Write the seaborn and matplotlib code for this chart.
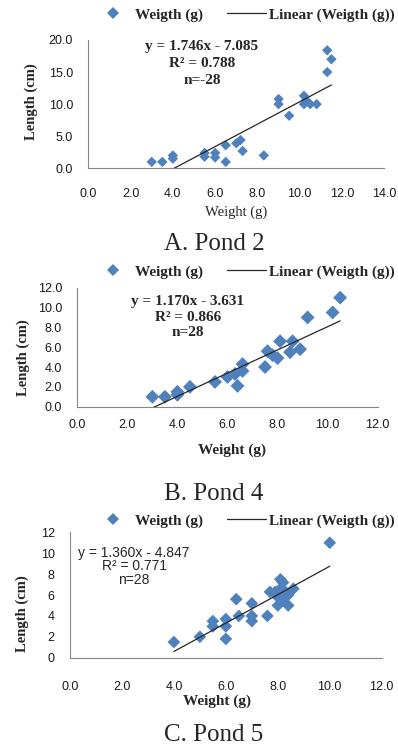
import numpy as np
import matplotlib
matplotlib.use("Agg")
import matplotlib.pyplot as plt
from matplotlib.lines import Line2D
import seaborn as sns

# Pond 2
pond2_weight = [3.0, 3.5, 4.0, 4.0, 5.5, 5.5, 6.0, 6.0, 6.5, 6.5, 7.0, 7.2, 7.3, 8.3,
                9.0, 9.0, 9.5, 10.2, 10.2, 10.3, 10.5, 10.8, 11.3, 11.5, 11.3]
pond2_length = [1.0, 1.0, 1.5, 2.0, 2.4, 1.8, 2.4, 1.7, 1.0, 3.6, 3.9, 4.4, 2.7, 2.0,
                10.8, 10.0, 8.2, 11.3, 10.0, 10.6, 10.0, 10.0, 18.4, 17.0, 15.0]
pond2_fit = (1.746, -7.085)
pond2_text = ["y = 1.746x - 7.085", "R\u00b2 = 0.788", "n=-28"]

# Pond 4
pond4_weight = [3.0, 3.5, 4.0, 4.0, 4.5, 5.5, 6.0, 6.3, 6.4, 6.6, 6.6, 7.5, 7.6, 7.8,
                8.0, 8.1, 8.6, 8.5, 8.9, 9.2, 10.2, 10.5]
pond4_length = [1.0, 1.0, 1.5, 1.2, 2.0, 2.5, 3.0, 3.3, 2.1, 4.3, 3.6, 4.0, 5.6, 5.2,
                4.9, 6.6, 6.6, 5.5, 5.8, 9.0, 9.5, 11.0]
pond4_fit = (1.170, -3.631)
pond4_text = ["y = 1.170x - 3.631", "R\u00b2 = 0.866", "n=28"]

# Pond 5
pond5_weight = [4.0, 5.0, 5.5, 5.5, 6.0, 6.0, 6.0, 6.4, 6.5, 7.0, 7.0, 7.0, 7.6, 7.7,
                7.9, 8.0, 8.0, 8.1, 8.1, 8.2, 8.2, 8.3, 8.4, 8.4, 8.6, 10.0]
pond5_length = [1.5, 2.0, 3.5, 3.0, 3.7, 3.0, 1.8, 5.6, 4.0, 5.2, 4.0, 3.5, 4.0, 6.3,
                6.3, 5.8, 5.0, 7.5, 6.6, 7.2, 5.6, 6.3, 6.0, 5.0, 6.6, 11.0]
pond5_fit = (1.360, -4.847)
pond5_text = ["y = 1.360x - 4.847", "R\u00b2 = 0.771", "n=28"]

sns.set_style("white")
plt.rcParams["font.family"] = ["Liberation Serif", "DejaVu Serif"]

BLUE = "#4F81BD"
W, H = 398, 747
fig = plt.figure(figsize=(W / 100, H / 100), dpi=100)


def px_axes(left, top, right, bottom):
    return fig.add_axes([left / W, 1 - bottom / H, (right - left) / W, (bottom - top) / H])


panels = [
    dict(box=(88.3, 40, 384.3, 168.3), w=pond2_weight, l=pond2_length, fit=pond2_fit,
         text=pond2_text, xlim=14, ylim=20, ystep=5, yfmt="{:.1f}", s=28,
         legend_y=15, text_xy=(202, 46.7), text_dy=16.7, text_size=11, text_bold=True, text_family="serif",
         xlabel_bold=False, xlabel_y=212, xlabel_x=236, ylabel_xy=(31, 101.7),
         xpad=10, title="A. Pond 2", title_base=250),
    dict(box=(77.3, 287.7, 377.7, 406.7), w=pond4_weight, l=pond4_length, fit=pond4_fit,
         text=pond4_text, xlim=12, ylim=12, ystep=2, yfmt="{:.1f}", s=50,
         legend_y=271.7, text_xy=(188, 301.7), text_dy=15.5, text_size=11, text_bold=True, text_family="serif",
         xlabel_bold=True, xlabel_y=450, xlabel_x=232, ylabel_xy=(23.3, 358),
         xpad=5, title="B. Pond 4", title_base=500),
    dict(box=(70, 532.3, 381.7, 657.7), w=pond5_weight, l=pond5_length, fit=pond5_fit,
         text=pond5_text, xlim=12, ylim=12, ystep=2, yfmt="{:.0f}", s=42,
         legend_y=520.7, text_xy=(134, 552.7), text_dy=13.8, text_size=10, text_bold=False, text_family="sans",
         xlabel_bold=True, xlabel_y=701.7, xlabel_x=217, ylabel_xy=(22.7, 614),
         xpad=13, title="C. Pond 5", title_base=741),
]

for p in panels:
    left, top, right, bottom = p["box"]
    ax = px_axes(left, top, right, bottom)
    sns.scatterplot(x=p["w"], y=p["l"], ax=ax, marker="D", s=p["s"], color=BLUE,
                    edgecolor="none", linewidth=0, zorder=3)
    slope, icpt = p["fit"]
    fx = np.array([min(p["w"]), max(p["w"])])
    sns.lineplot(x=fx, y=slope * fx + icpt, ax=ax, color="#262626", linewidth=0.9, zorder=4)

    ax.set_xlim(0, p["xlim"])
    ax.set_ylim(0, p["ylim"])
    ax.set_xticks(np.arange(0, p["xlim"] + 0.1, 2))
    ax.set_xticklabels(["{:.1f}".format(v) for v in np.arange(0, p["xlim"] + 0.1, 2)])
    yt = np.arange(0, p["ylim"] + 0.1, p["ystep"])
    ax.set_yticks(yt)
    ax.set_yticklabels([p["yfmt"].format(v) for v in yt])
    for lab in ax.get_xticklabels() + ax.get_yticklabels():
        lab.set_fontfamily("Liberation Sans")
        lab.set_fontsize(9)
        lab.set_color("#1a1a1a")
    ax.tick_params(axis="x", direction="out", length=4, width=0.8, color="#868686", pad=p["xpad"])
    ax.tick_params(axis="y", direction="out", length=4, width=0.8, color="#868686", pad=7)
    for side in ["top", "right"]:
        ax.spines[side].set_visible(False)
    for side in ["left", "bottom"]:
        ax.spines[side].set_color("#868686")
        ax.spines[side].set_linewidth(0.8)
    ax.patch.set_alpha(0)

    # x / y labels
    fig.text(p["xlabel_x"] / W, 1 - p["xlabel_y"] / H, "Weight (g)", ha="center", va="center",
             fontsize=10.5 if not p["xlabel_bold"] else 11,
             fontweight="bold" if p["xlabel_bold"] else "normal")
    fig.text(p["ylabel_xy"][0] / W, 1 - p["ylabel_xy"][1] / H, "Length (cm)", rotation=90,
             ha="center", va="center", fontsize=10.5, fontweight="bold")

    # regression annotation
    fam = ["Liberation Serif"] if p["text_family"] == "serif" else ["Liberation Sans"]
    for i, line in enumerate(p["text"]):
        fig.text(p["text_xy"][0] / W, 1 - (p["text_xy"][1] + i * p["text_dy"]) / H, line,
                 ha="center", va="center", fontsize=p["text_size"], family=fam,
                 fontweight="bold" if p["text_bold"] else "normal")

    # legend
    handles = [Line2D([], [], linestyle="none", marker="D", markersize=6, color=BLUE,
                      markeredgewidth=0),
               Line2D([], [], color="#262626", linewidth=0.9)]
    fig.legend(handles, ["Weigth (g)", "Linear (Weigth (g))"], ncol=2, loc="center",
               bbox_to_anchor=(244 / W, 1 - p["legend_y"] / H), frameon=False,
               prop=dict(family="Liberation Serif", weight="bold", size=11),
               handlelength=2.5, handletextpad=0.2, columnspacing=1.6, borderpad=0)

    # panel caption
    fig.text(214 / W, 1 - p["title_base"] / H, p["title"], ha="center", va="baseline",
             fontsize=18)

fig.savefig("out.png", dpi=100, facecolor="white")
